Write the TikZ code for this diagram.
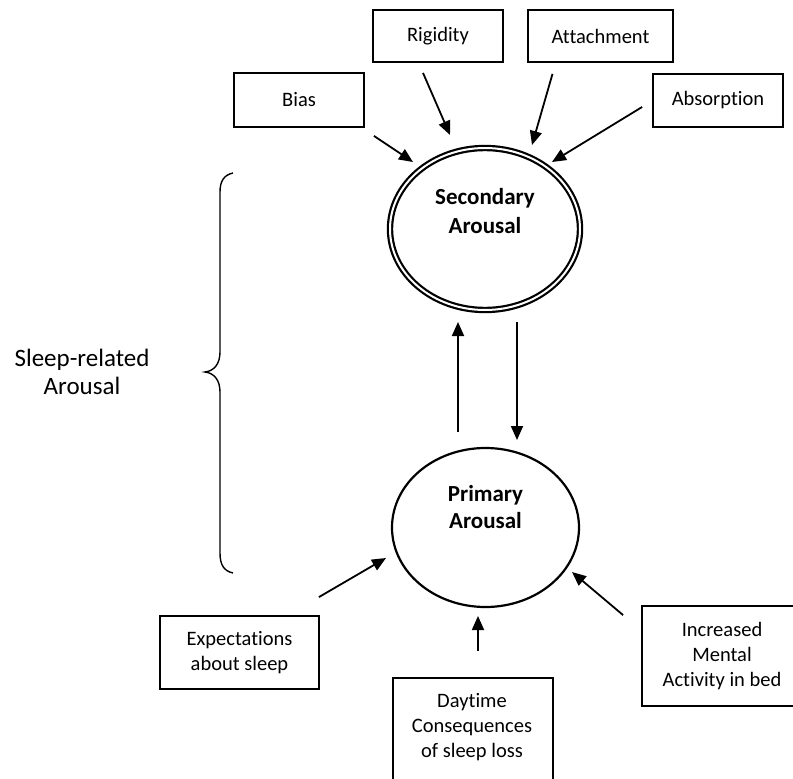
\documentclass[tikz,border=0pt]{standalone}
\usepackage{fontspec}
\setmainfont[Ligatures=CommonOff]{Carlito}
\usetikzlibrary{arrows.meta,calc,shapes.geometric}
\begin{document}
\begin{tikzpicture}[x=1pt,y=-1pt,
  box/.style={draw,line width=1.8pt,rectangle,inner sep=0pt,align=center,
    font=\fontsize{20.5}{25}\selectfont},
  txt/.style={align=center,inner sep=0pt},
  arr/.style={line width=1.8pt,-{Triangle[length=14pt,width=12pt]}},
  bigell/.style={draw,ellipse,inner sep=0pt}]
\useasboundingbox (0,0) rectangle (793,779);
% secondary / primary
\node[bigell,line width=2.2pt,double,double distance=2pt,minimum width=190,minimum height=162] (sec) at (485,229) {};
\node[txt,font=\fontsize{23}{29}\selectfont\bfseries] (sectxt) at (485,211) {Secondary\\Arousal};
\node[bigell,line width=2.2pt,minimum width=187,minimum height=159] (prim) at (485.5,527.5) {};
\node[txt,font=\fontsize{23}{27}\selectfont\bfseries] (primtxt) at (485.5,507) {Primary\\Arousal};
% boxes
\node[box,minimum width=130,minimum height=52] (rig) at (438,36) {Rigidity};
\node[box,minimum width=145,minimum height=52] (att) at (600.5,36) {Attachment};
\node[box,minimum width=130,minimum height=54] (bias) at (299,100) {Bias};
\node[box,minimum width=130,minimum height=53] (abs) at (718,100.5) {Absorption};
\node[box,minimum width=159,minimum height=73] (exp) at (239.5,652.5) {Expectations\\about sleep};
\node[box,minimum width=160,minimum height=100] (inc) at (722,656) {Increased\\Mental\\Activity in bed};
\node[box,minimum width=160,minimum height=106] (day) at (473,731) {};
\node[txt,font=\fontsize{20.5}{25}\selectfont] (daytxt) at (472,727) {Daytime\\Consequences\\of sleep loss};
% left label and brace
\node[txt,font=\fontsize{25}{28}\selectfont] (sleep) at (82,372) {Sleep-related\\Arousal};
\draw[line width=1.4pt] (233,173) .. controls (224,175) and (220,181) .. (220,192) -- (220,352)
  .. controls (220,364) and (214,371) .. (205,372)
  .. controls (214,373) and (220,380) .. (220,392) -- (220,553)
  .. controls (220,565) and (224,571) .. (233,573);
% arrows
\draw[arr] ($(rig.south)+(-15,10)$) -- ($(sec.center)+(-35,-94)$);
\draw[arr] ($(att.south)+(-48,11)$) -- ($(sec.center)+(47,-84)$);
\draw[arr] ($(bias.south east)+(9,8)$) -- ($(sec.center)+(-72,-67)$);
\draw[arr] ($(abs.west)+(-10,6.5)$) -- ($(sec.center)+(67,-67)$);
\draw[arr] ($(prim.center)+(-27.5,-95.5)$) -- ($(sec.center)+(-27,93)$);
\draw[arr] ($(sec.center)+(32,93)$) -- ($(prim.center)+(31.5,-87.5)$);
\draw[arr] ($(exp.north east)+(-1,-18)$) -- ($(prim.center)+(-99.5,30.5)$);
\draw[arr] ($(inc.north west)+(-18,10)$) -- ($(prim.center)+(86.5,44.5)$);
\draw[arr] ($(day.north)+(5,-26)$) -- ($(prim.center)+(-7.5,88.5)$);
\end{tikzpicture}
\end{document}
